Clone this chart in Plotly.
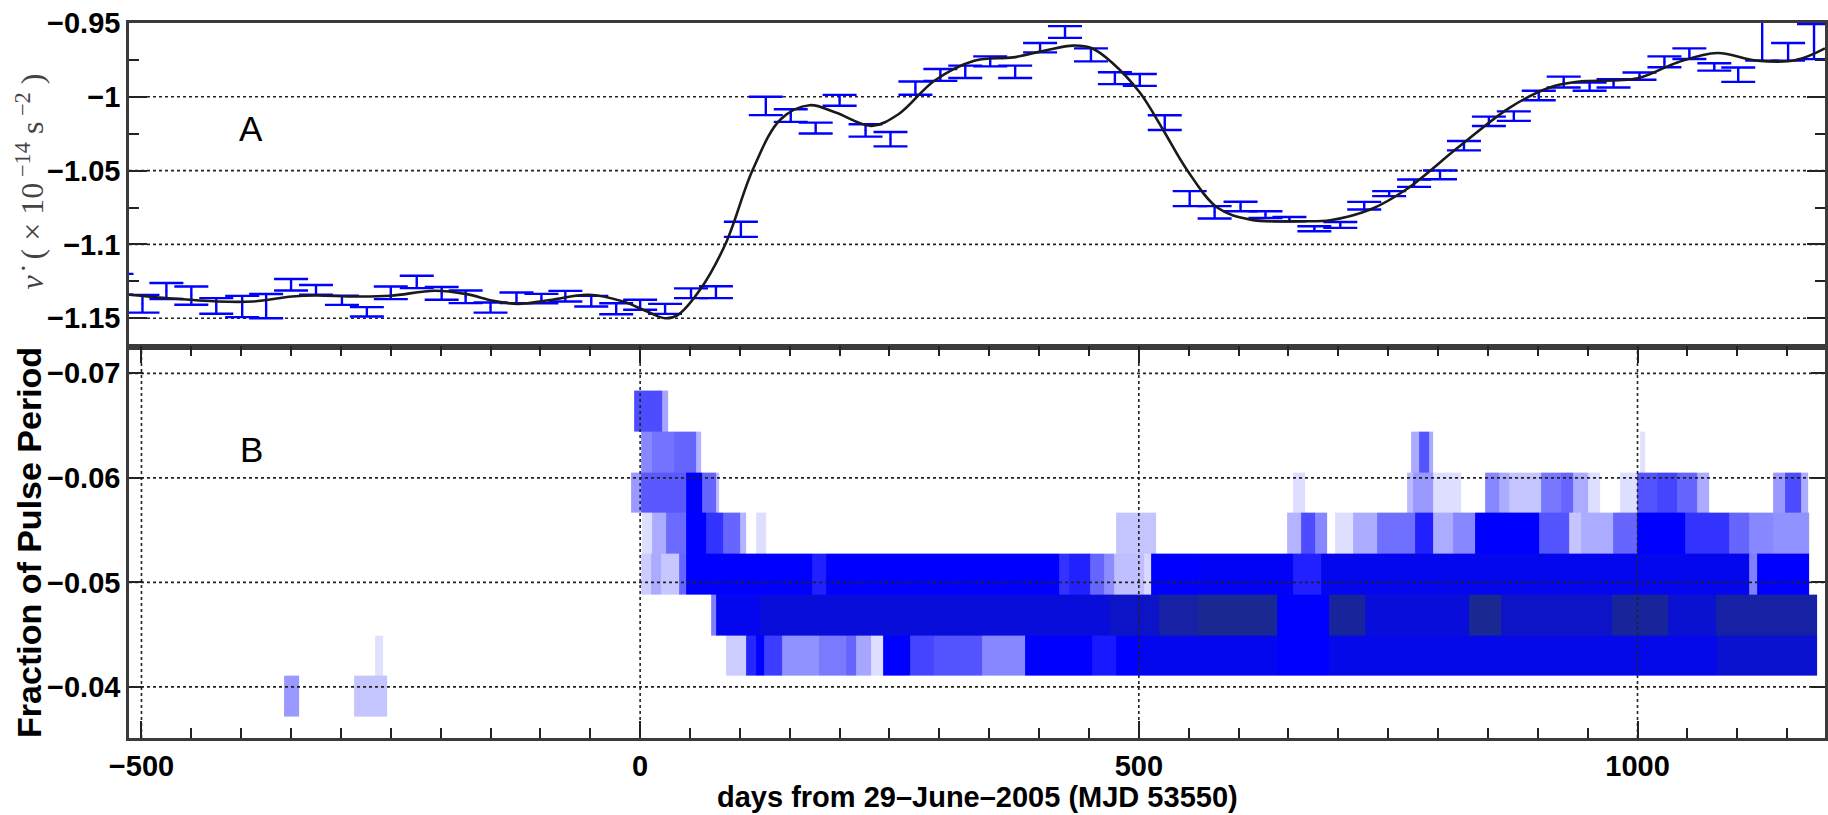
import plotly.graph_objects as go

# ---------------- Panel A: nu-dot measurements (error bars) ----------------
err_days = [-525, -499, -475, -450, -425, -399, -375, -350, -325, -299, -274, -250,
            -224, -199, -175, -150, -124, -99, -75, -49, -24, 0, 25, 51, 76, 101,
            126, 151, 176, 200, 226, 251, 276, 301, 326, 351, 376, 401, 426, 452,
            476, 501, 526, 551, 576, 602, 627, 651, 676, 702, 726, 751, 776, 802,
            826, 851, 876, 901, 926, 952, 976, 1002, 1027, 1052, 1077, 1101, 1125,
            1151, 1177]
err_vals = [-1.127, -1.1402, -1.1316, -1.1347, -1.1417, -1.1421, -1.1418, -1.1273,
            -1.1308, -1.1379, -1.1457, -1.1328, -1.1254, -1.1332, -1.1355, -1.1428,
            -1.1362, -1.1367, -1.1351, -1.1385, -1.1436, -1.1409, -1.1437, -1.1331,
            -1.1324, -1.0898, -1.0062, -1.0127, -1.0212, -1.0024, -1.0228, -1.0287,
            -0.9941, -0.9852, -0.9831, -0.976, -0.9831, -0.9667, -0.9561, -0.9716,
            -0.9874, -0.9886, -1.0175, -1.069, -1.0783, -1.0743, -1.0798, -1.0829,
            -1.0894, -1.0868, -1.0738, -1.0656, -1.0585, -1.0529, -1.0331, -1.0166,
            -1.0131, -0.9991, -0.99, -0.9931, -0.9909, -0.986, -0.9763, -0.9708,
            -0.9798, -0.985, -0.955, -0.9695, -0.9626]
err_sizes = [0.007, 0.006, 0.0054, 0.0062, 0.0053, 0.0072, 0.0082, 0.0039, 0.0033,
             0.0031, 0.0032, 0.0043, 0.0042, 0.0043, 0.0043, 0.0034, 0.0036, 0.0032,
             0.0036, 0.0036, 0.0037, 0.0034, 0.0034, 0.0033, 0.004, 0.0051, 0.0062,
             0.0043, 0.0037, 0.0037, 0.0042, 0.0049, 0.0045, 0.004, 0.0042, 0.0034,
             0.0042, 0.0032, 0.004, 0.0044, 0.004, 0.004, 0.005, 0.0051, 0.0042,
             0.0032, 0.0023, 0.0015, 0.0017, 0.002, 0.0026, 0.0017, 0.0025, 0.003,
             0.0032, 0.0032, 0.0032, 0.0032, 0.0037, 0.0028, 0.0028, 0.0025, 0.0037,
             0.0036, 0.0025, 0.0049, 0.0205, 0.006, 0.0119]

# smooth fitted curve
fit_days = [-513, -475, -424, -388, -349, -325, -285, -250, -206, -174, -147, -123,
            -88, -52, -17, 7, 25, 38, 60, 86, 113, 141, 170, 196, 232, 259, 295,
            335, 374, 406, 434, 453, 473, 501, 524, 548, 579, 612, 664, 692, 732,
            768, 820, 872, 912, 940, 1000, 1040, 1080, 1120, 1159, 1188]
fit_vals = [-1.1341, -1.1364, -1.1387, -1.1387, -1.1353, -1.1346, -1.1353, -1.1348,
            -1.1314, -1.1337, -1.1382, -1.1403, -1.1375, -1.1341, -1.1387, -1.1455,
            -1.15, -1.1477, -1.1308, -1.099, -1.0492, -1.0152, -1.0057, -1.0107,
            -1.0197, -1.0118, -0.9891, -0.9755, -0.9733, -0.9687, -0.9653, -0.9671,
            -0.9767, -0.9971, -1.022, -1.0492, -1.0752, -1.0832, -1.0843, -1.0836,
            -1.0764, -1.0628, -1.0344, -1.0073, -0.9937, -0.9898, -0.9875, -0.9767,
            -0.9703, -0.9755, -0.9751, -0.9672]

# ---------------- Panel B: pulse-phase bins, (start day, end day, intensity) ----------------
row_centers = [-0.0664, -0.0625, -0.0586, -0.0547, -0.0508, -0.0469, -0.0430, -0.0391]

seg_r17 = [(-6, 22, 0.7), (22, 28, 0.35)]
seg_r16 = [(1, 12, 0.47), (12, 34, 0.55), (34, 56, 0.6), (56, 61, 0.3),
           (773, 781, 0.33), (781, 791, 0.67), (791, 795, 0.33), (1003, 1008, 0.12)]
seg_r15 = [(-9, 1, 0.4), (1, 46, 0.65), (46, 62, 1.0), (62, 76, 0.6), (76, 79, 0.25),
           (655, 667, 0.13), (769, 775, 0.27), (775, 795, 0.4), (795, 823, 0.13),
           (847, 861, 0.47), (861, 871, 0.33), (871, 903, 0.23), (903, 923, 0.53),
           (923, 935, 0.6), (935, 950, 0.33), (950, 962, 0.13), (983, 1000, 0.13),
           (1000, 1020, 0.67), (1020, 1040, 0.73), (1040, 1060, 0.6), (1060, 1072, 0.33),
           (1136, 1148, 0.4), (1148, 1164, 0.7), (1164, 1171, 0.33)]
seg_r14 = [(2, 12, 0.13), (12, 26, 0.33), (26, 46, 0.58), (46, 66, 1.0), (66, 83, 0.8),
           (83, 100, 0.6), (100, 106, 0.3), (116, 126, 0.13), (477, 517, 0.23),
           (649, 663, 0.3), (663, 677, 0.7), (677, 689, 0.47), (697, 715, 0.13),
           (715, 739, 0.33), (739, 777, 0.56), (777, 795, 0.87), (795, 815, 0.33),
           (815, 837, 0.47), (837, 901, 1.0), (901, 931, 0.67), (931, 943, 0.23),
           (943, 976, 0.33), (976, 1000, 0.6), (1000, 1048, 1.0), (1048, 1092, 0.8),
           (1092, 1112, 0.6), (1112, 1136, 0.47), (1136, 1172, 0.43)]
seg_r13 = [(1, 11, 0.2), (11, 21, 0.33), (21, 39, 0.22), (39, 46, 0.6), (46, 172, 1.0),
           (172, 186, 0.87), (186, 420, 1.0), (420, 430, 0.8), (430, 451, 0.87),
           (451, 465, 0.6), (465, 475, 0.45), (475, 505, 0.25), (505, 512, 0.15),
           (512, 559, 1.0), (559, 655, 1.05), (655, 683, 0.87), (683, 1112, 1.1),
           (1112, 1120, 0.5), (1120, 1172, 1.0)]
seg_r12 = [(71, 76, 0.5), (76, 120, 1.1), (120, 470, 1.2), (470, 520, 1.3), (520, 559, 1.5),
           (559, 639, 1.6), (639, 691, 1.0), (691, 727, 1.55), (727, 831, 1.2),
           (831, 863, 1.6), (863, 975, 1.3), (975, 1031, 1.55), (1031, 1079, 1.25),
           (1079, 1180, 1.5)]
seg_r11 = [(-266, -258, 0.12), (86, 106, 0.2), (106, 116, 0.85), (116, 124, 1.0),
           (124, 142, 0.76), (142, 179, 0.43), (179, 206, 0.52), (206, 217, 0.6),
           (217, 232, 0.35), (232, 244, 0.13), (244, 271, 1.0), (271, 295, 0.73),
           (295, 343, 0.67), (343, 386, 0.47), (386, 453, 1.0), (453, 477, 0.9),
           (477, 501, 1.0), (501, 639, 1.1), (639, 691, 1.0), (691, 1080, 1.12),
           (1080, 1180, 1.25)]
seg_r10 = [(-357, -342, 0.4), (-287, -254, 0.23)]

row_segments = [seg_r17, seg_r16, seg_r15, seg_r14, seg_r13, seg_r12, seg_r11, seg_r10]

# axis ranges / grid values
x_range = [-512.5, 1188]
x_major = [-500, 0, 500, 1000]
yA_range = [-1.1693, -0.95]
yA_grid = [-1.0, -1.05, -1.1, -1.15]
yB_range = [-0.03511, -0.07255]
yB_grid = [-0.07, -0.06, -0.05, -0.04]

# ---------------- build heat-map grid from the segments ----------------
edges = sorted({v for segs in row_segments for s in segs for v in s[:2]})
mids = [(a + b) / 2 for a, b in zip(edges[:-1], edges[1:])]
z = []
for segs in row_segments:
    row = []
    for m in mids:
        val = None
        for a, b, lev in segs:
            if a <= m < b:
                val = lev
        row.append(val)
    z.append(row)

SANS = "Liberation Sans, Arial"
LINEC = "#3a3a3a"

fig = go.Figure()

fig.add_trace(go.Heatmap(
    x=edges, y=row_centers, z=z, xaxis="x2", yaxis="y2",
    zmin=0, zmax=1.6, showscale=False, hoverinfo="skip",
    colorscale=[[0, "rgb(255,255,255)"], [0.625, "rgb(0,0,255)"], [1, "rgb(26,40,145)"]],
))

fig.add_trace(go.Scatter(
    x=err_days, y=err_vals, mode="markers", xaxis="x", yaxis="y",
    marker=dict(size=2, color="#0000ff"),
    error_y=dict(type="data", array=err_sizes, visible=True, color="#0000ff",
                 thickness=2.4, width=17),
    showlegend=False, hoverinfo="skip",
))

fig.add_trace(go.Scatter(
    x=fit_days, y=fit_vals, mode="lines", xaxis="x", yaxis="y",
    line=dict(color="#1a1a1a", width=2.6, shape="spline", smoothing=1.0),
    showlegend=False, hoverinfo="skip",
))

shapes = []
for v in yA_grid:
    shapes.append(dict(type="line", xref="x domain", yref="y", x0=0, x1=1, y0=v, y1=v,
                       line=dict(color="#222", width=1.6, dash="dot"), layer="below"))
for v in yB_grid:
    shapes.append(dict(type="line", xref="x2 domain", yref="y2", x0=0, x1=1, y0=v, y1=v,
                       line=dict(color="#222", width=1.6, dash="dot"), layer="above"))
for v in x_major:
    shapes.append(dict(type="line", xref="x2", yref="y2 domain", x0=v, x1=v, y0=0, y1=1,
                       line=dict(color="#222", width=1.6, dash="dot"), layer="above"))

tickfont = dict(family=SANS, size=29, color="black", weight="bold")
split = 0.5473

fig.update_layout(
    width=1828, height=815,
    margin=dict(l=129, r=0, t=23, b=77),
    paper_bgcolor="white", plot_bgcolor="white",
    showlegend=False,
    shapes=shapes,
    xaxis=dict(domain=[0, 1], anchor="y", range=x_range, showticklabels=False,
               ticks="", showgrid=False, zeroline=False, showline=True, mirror=True,
               linecolor=LINEC, linewidth=2.5),
    yaxis=dict(domain=[split, 1], anchor="x", range=yA_range, tick0=-1, dtick=0.05,
               tickformat="~g", ticks="inside", ticklen=18, tickwidth=2, tickcolor="#222",
               minor=dict(dtick=0.025, tick0=-1, ticks="inside", ticklen=10,
                          tickwidth=2, tickcolor="#222", showgrid=False),
               showgrid=False, zeroline=False, showline=True, mirror="ticks",
               linecolor=LINEC, linewidth=2.5, tickfont=tickfont),
    xaxis2=dict(domain=[0, 1], anchor="y2", range=x_range, tick0=0, dtick=500,
                ticks="inside", ticklen=17, tickwidth=2, tickcolor="#222",
                minor=dict(dtick=50, tick0=0, ticks="inside", ticklen=10,
                           tickwidth=2, tickcolor="#222", showgrid=False),
                showgrid=False, zeroline=False, showline=True, mirror="ticks",
                linecolor=LINEC, linewidth=2.5, tickfont=tickfont),
    yaxis2=dict(domain=[0, split], anchor="x2", range=yB_range, tick0=-0.07, dtick=0.01,
                tickformat="~g", ticks="inside", ticklen=14, tickwidth=2, tickcolor="#222",
                showgrid=False, zeroline=False, showline=True, mirror="ticks",
                linecolor=LINEC, linewidth=2.5, tickfont=tickfont),
    annotations=[
        dict(text="A", x=-390, y=-1.0212, xref="x", yref="y", showarrow=False,
             font=dict(family=SANS, size=35, color="black")),
        dict(text="B", x=-390, y=-0.0627, xref="x2", yref="y2", showarrow=False,
             font=dict(family=SANS, size=35, color="black")),
        dict(text="<i>ν̇</i>  ( × 10<sup> −14</sup> s<sup> −2</sup> )",
             x=-0.0585, y=0.7779, xref="paper", yref="paper", showarrow=False,
             textangle=-90, xanchor="center", yanchor="middle",
             font=dict(family="Liberation Serif, DejaVu Serif", size=32, color="#444")),
        dict(text="Fraction of Pulse Period", x=-0.0591, y=0.2739, xref="paper",
             yref="paper", showarrow=False, textangle=-90, xanchor="center",
             yanchor="middle", font=dict(family=SANS, size=34, color="black", weight="bold")),
        dict(text="days from 29–June–2005 (MJD 53550)", x=0.5, y=-0.083, xref="paper",
             yref="paper", showarrow=False, xanchor="center", yanchor="middle",
             font=dict(family=SANS, size=29, color="black", weight="bold")),
    ],
)

fig.write_html("out.html")
